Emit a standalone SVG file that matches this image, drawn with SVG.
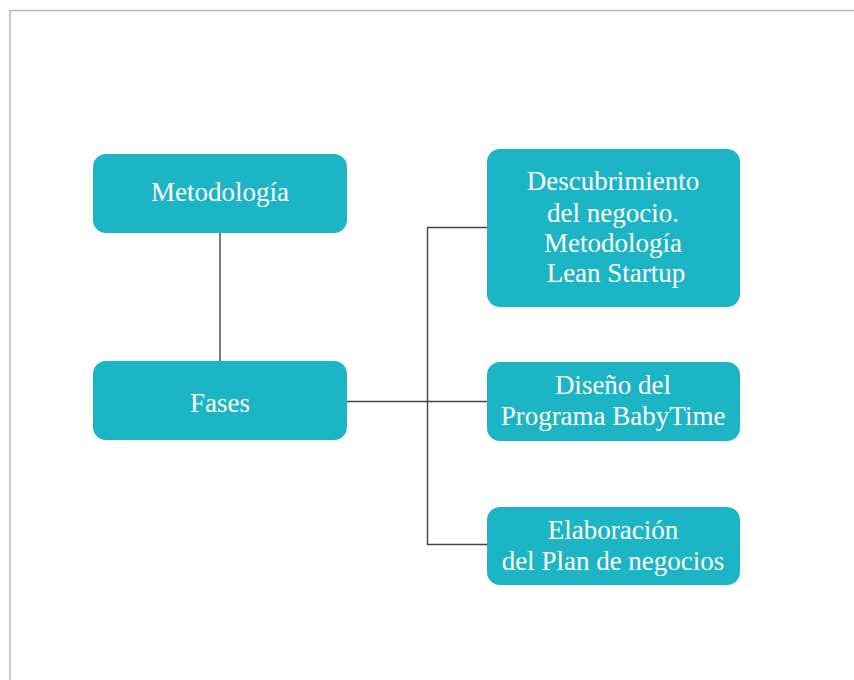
<svg xmlns="http://www.w3.org/2000/svg" width="854" height="680" viewBox="0 0 854 680">
  <style>
    .node rect { fill: #1cb5c6; }
    .node text { fill: #ffffff; font-family: "Liberation Serif", "Times New Roman", serif; font-size: 27px; text-anchor: middle; }
    .conn { stroke: #444444; stroke-width: 1.4; fill: none; }
  </style>
  <rect width="854" height="680" fill="#ffffff"/>
  <!-- page frame -->
  <path d="M10 680 V10.5 H854" fill="none" stroke="#b8b8b8" stroke-width="1.6"/>

  <g id="connectors">
    <line class="conn" x1="220" y1="233" x2="220" y2="361"/>
    <line class="conn" x1="347" y1="401.5" x2="487" y2="401.5"/>
    <path class="conn" d="M487 227.5 H427.5 V544.5 H487"/>
  </g>

  <g id="metodologia" class="node">
    <rect x="93" y="154" width="254" height="79" rx="13"/>
    <text x="220" y="201">Metodología</text>
  </g>

  <g id="fases" class="node">
    <rect x="93" y="361" width="254" height="79" rx="13"/>
    <text x="220" y="411.5">Fases</text>
  </g>

  <g id="descubrimiento" class="node">
    <rect x="487" y="149" width="253" height="158" rx="13"/>
    <text x="613" y="190">Descubrimiento</text>
    <text x="613" y="221.5">del negocio.</text>
    <text x="613" y="251.5">Metodología</text>
    <text x="616" y="281.5">Lean Startup</text>
  </g>

  <g id="diseno" class="node">
    <rect x="487" y="362" width="253" height="79" rx="13"/>
    <text x="613" y="394">Diseño del</text>
    <text x="613" y="425">Programa BabyTime</text>
  </g>

  <g id="elaboracion" class="node">
    <rect x="487" y="507" width="253" height="78" rx="13"/>
    <text x="613" y="538.5">Elaboración</text>
    <text x="613" y="569.5">del Plan de negocios</text>
  </g>
</svg>
